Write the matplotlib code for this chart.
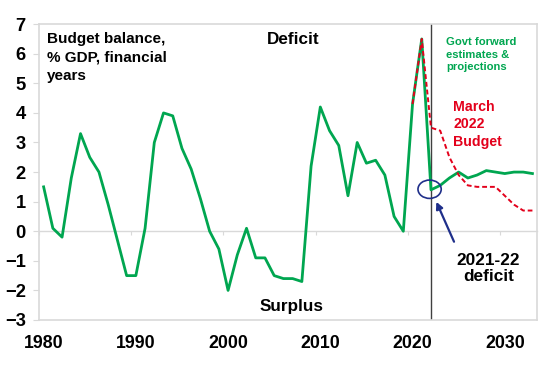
import numpy as np
import matplotlib
matplotlib.use("Agg")
import matplotlib.pyplot as plt
from matplotlib.patches import Ellipse

# Budget balance, % of GDP (deficit positive), financial years by ending year
years = list(range(1980, 2034))
balance = [1.5, 0.1, -0.2, 1.8, 3.3, 2.5, 2.0, 0.9, -0.3, -1.5,
           -1.5, 0.1, 3.0, 4.0, 3.9, 2.8, 2.1, 1.1, 0.0, -0.6,
           -2.0, -0.8, 0.1, -0.9, -0.9, -1.5, -1.6, -1.6, -1.7, 2.2,
           4.2, 3.4, 2.9, 1.2, 3.0, 2.3, 2.4, 1.9, 0.5, 0.0,
           4.3, 6.5, 1.4, 1.55, 1.8, 2.0, 1.8, 1.9, 2.05, 2.0,
           1.95, 2.0, 2.0, 1.95]

# March 2022 Budget path
budget_years = list(range(2020, 2034))
budget_mar22 = [4.3, 6.5, 3.5, 3.4, 2.5, 1.9, 1.55, 1.5, 1.5, 1.5,
                1.2, 0.9, 0.7, 0.7]

y_ticks = list(range(-3, 8))
x_labels = [1980, 1990, 2000, 2010, 2020, 2030]

green = '#00a650'
red = '#e3001b'
navy = '#1f2f8a'
grey = '#d9d9d9'

plt.rcParams['font.family'] = ['Liberation Sans', 'DejaVu Sans']
plt.rcParams['font.weight'] = 'bold'

fig = plt.figure(figsize=(5.48, 3.66), dpi=100)
ax = fig.add_axes([0.0712, 0.1257, 0.9088, 0.8083])

ax.plot(years, balance, color=green, lw=2.0, zorder=4)
ax.plot(budget_years, budget_mar22, color=red, lw=1.4, ls=(0, (2.5, 1.5)), zorder=5)

# forecast start marker
ax.axvline(2022, color='#404040', lw=1.0, zorder=2)

ax.set_xlim(1979.5, 2033.5)
ax.set_ylim(-3, 7)
ax.set_yticks(y_ticks)
ax.set_xticks(x_labels)
ax.tick_params(axis='x', length=0, pad=11, labelsize=12.8)
ax.tick_params(axis='y', length=4.5, color=grey, pad=5, labelsize=13.2)
for lab in ax.get_xticklabels() + ax.get_yticklabels():
    lab.set_fontweight('bold')
for sp in ax.spines.values():
    sp.set_color(grey)
    sp.set_linewidth(1.2)

# category axis crossing at zero, with tick marks between years
zero = ax.secondary_xaxis(0.3)
zero.set_xticks([x - 0.5 for x in x_labels])
zero.tick_params(axis='x', length=3, color=grey, labelbottom=False)
zero.spines['bottom'].set_color(grey)
zero.spines['bottom'].set_linewidth(1.0)

ax.text(0.016, 0.975, 'Budget balance,\n% GDP, financial\nyears', transform=ax.transAxes,
        ha='left', va='top', fontsize=11.0, fontweight='bold', linespacing=1.45)
ax.text(0.511, 0.975, 'Deficit', transform=ax.transAxes, ha='center', va='top',
        fontsize=12.3, fontweight='bold')
ax.text(0.508, 0.03, 'Surplus', transform=ax.transAxes, ha='center', va='baseline',
        fontsize=12.3, fontweight='bold')
ax.text(0.817, 0.955, 'Govt forward\nestimates &\nprojections', transform=ax.transAxes,
        ha='left', va='top', fontsize=8.1, fontweight='bold', color=green, linespacing=1.3)
ax.text(0.832, 0.745, 'March\n2022\nBudget', transform=ax.transAxes, ha='left', va='top',
        fontsize=10.2, fontweight='bold', color=red, linespacing=1.35)
ax.text(0.902, 0.228, '2021-22\ndeficit', transform=ax.transAxes, ha='center', va='top',
        fontsize=12.4, fontweight='bold', linespacing=1.15)

ax.add_patch(Ellipse((2021.85, 1.42), 2.52, 0.62, fill=False, ec=navy, lw=1.2, zorder=6))
ax.annotate('', xy=(2022.46, 1.08), xytext=(2024.62, -0.44),
            arrowprops=dict(arrowstyle='-|>', color=navy, lw=1.6, mutation_scale=10))

fig.savefig('out.png', dpi=100)
